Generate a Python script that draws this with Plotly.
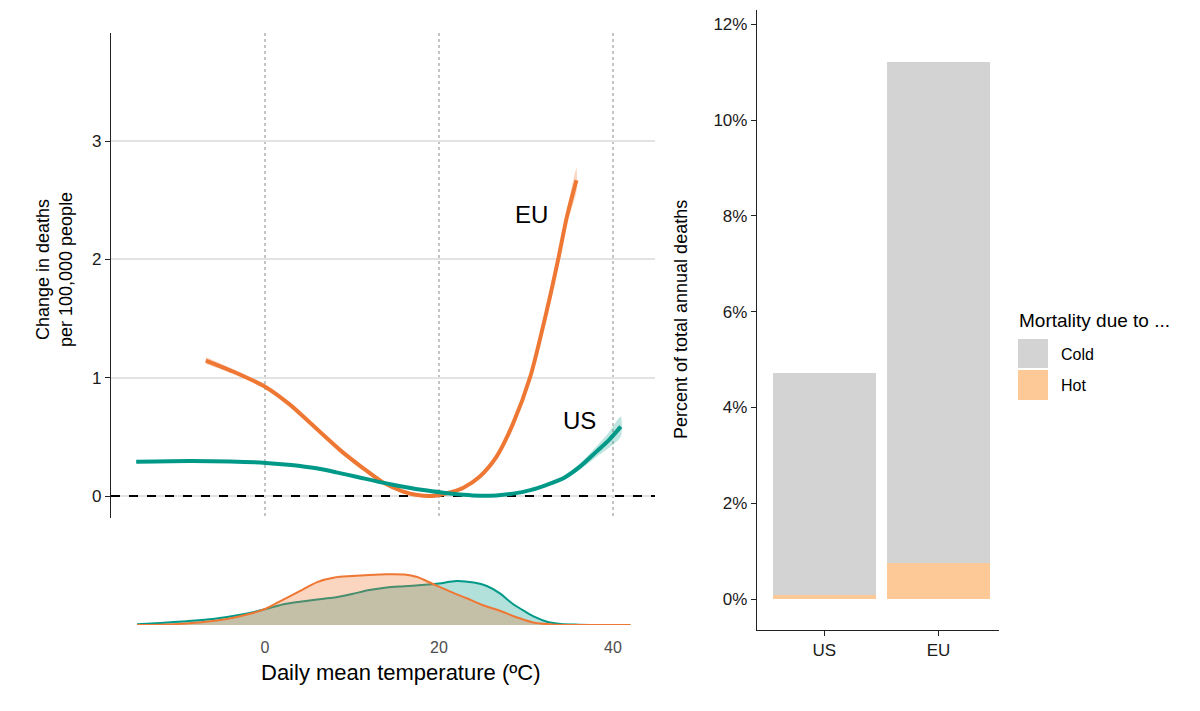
import plotly.graph_objects as go

# ---------------- data ----------------
# Response curves: change in deaths per 100,000 people vs daily mean temperature
us_temp = [-14.8, -8.6, -4, 0.1, 3, 5.9, 8.2, 10.5, 14.4, 18.2, 20.5, 22.8, 24.7, 26.6, 28.5,
           30.5, 32.4, 34.3, 36.2, 38.1, 39.5, 40.9]
us_resp = [0.29, 0.296, 0.292, 0.28, 0.262, 0.234, 0.2, 0.163, 0.10, 0.05, 0.028, 0.01, 0.002,
           0.005, 0.02, 0.05, 0.095, 0.15, 0.248, 0.375, 0.47, 0.586]
us_se = [0.012, 0.007, 0.005, 0.005, 0.005, 0.005, 0.005, 0.005, 0.005, 0.005, 0.005, 0.005,
         0.005, 0.005, 0.006, 0.008, 0.012, 0.018, 0.027, 0.045, 0.065, 0.085]

eu_temp = [-6.8, -3.6, 0.1, 2.9, 5.9, 8.6, 11.3, 13.6, 15.9, 17.5, 19.2, 20.9, 22.8, 24.7,
           26.6, 28.5, 30.5, 32.4, 33.7, 34.7, 35.8]
eu_resp = [1.145, 1.05, 0.92, 0.77, 0.57, 0.39, 0.234, 0.113, 0.037, 0.008, 0.0, 0.023,
           0.07, 0.165, 0.33, 0.61, 1.01, 1.57, 2.0, 2.36, 2.67]
eu_se = [0.03, 0.02, 0.014, 0.012, 0.01, 0.01, 0.008, 0.006, 0.005, 0.005, 0.005, 0.005,
         0.006, 0.008, 0.01, 0.014, 0.02, 0.03, 0.045, 0.06, 0.1]

# Distribution of daily mean temperatures (% of days per degree C)
dens_us_temp = [-14.7, -12, -9, -6, -3, 0, 2, 4, 6, 8, 10, 12, 14, 16, 18, 20, 22, 24, 25.5,
                27, 28.5, 30, 31, 32.5, 34, 36, 42]
dens_us = [0.06, 0.17, 0.32, 0.5, 0.83, 1.31, 1.71, 1.94, 2.13, 2.29, 2.58, 2.92, 3.13, 3.23,
           3.33, 3.46, 3.67, 3.54, 3.25, 2.64, 1.75, 1.08, 0.67, 0.25, 0.08, 0.03, 0.0]
dens_eu_temp = [-14.7, -12, -9, -6, -3, 0, 2, 4, 6, 8, 10, 12, 14, 16, 17.5, 19.3, 21.3, 23.2,
                25, 27, 29, 31, 33, 35, 42]
dens_eu = [0.0, 0.03, 0.13, 0.33, 0.71, 1.33, 2.08, 2.83, 3.58, 3.96, 4.08, 4.17, 4.23, 4.21,
           4.0, 3.42, 2.78, 2.23, 1.67, 1.19, 0.63, 0.18, 0.05, 0.01, 0.0]

# Share of annual deaths attributable to temperature (%)
regions = ["US", "EU"]
hot_share = [0.09, 0.76]
cold_share = [4.63, 10.45]

temp_ticks = [0, 20, 40]
resp_ticks = [0, 1, 2, 3]
pct_ticks = [0, 2, 4, 6, 8, 10, 12]

# ---------------- style ----------------
TEAL = "#009988"
ORANGE = "#EE7733"
FONT = "Liberation Sans, Arial, Helvetica, sans-serif"
W, H = 1200, 711
XR = [-17.70, 44.83]


def px(x):
    return x / W


def py(y):
    return 1 - y / H


fig = go.Figure()

# --- density panel (bottom-left) ---
fig.add_trace(go.Scatter(
    x=dens_us_temp, y=dens_us, xaxis="x2", yaxis="y2", mode="lines",
    line=dict(color=TEAL, width=2, shape="spline", smoothing=0.8),
    fill="tozeroy", fillcolor="rgba(0,153,136,0.3)", hoverinfo="skip"))
fig.add_trace(go.Scatter(
    x=dens_eu_temp, y=dens_eu, xaxis="x2", yaxis="y2", mode="lines",
    line=dict(color=ORANGE, width=2, shape="spline", smoothing=0.8),
    fill="tozeroy", fillcolor="rgba(238,119,51,0.3)", hoverinfo="skip"))

# --- zero reference line (top-left) ---
fig.add_trace(go.Scatter(
    x=XR, y=[0, 0], mode="lines", xaxis="x", yaxis="y", hoverinfo="skip",
    line=dict(color="black", width=1.8, dash="dash")))

# --- response curves (top-left) ---
for temp, resp, se, rgba in [
    (eu_temp, eu_resp, eu_se, "rgba(238,119,51,0.3)"),
    (us_temp, us_resp, us_se, "rgba(0,153,136,0.25)"),
]:
    upper = [r + s for r, s in zip(resp, se)]
    lower = [r - s for r, s in zip(resp, se)]
    fig.add_trace(go.Scatter(
        x=temp + temp[::-1], y=upper + lower[::-1], mode="lines",
        line=dict(width=0, shape="spline", smoothing=0.7), fill="toself",
        fillcolor=rgba, hoverinfo="skip", xaxis="x", yaxis="y"))

fig.add_trace(go.Scatter(
    x=eu_temp, y=eu_resp, mode="lines", xaxis="x", yaxis="y",
    line=dict(color=ORANGE, width=4, shape="spline", smoothing=0.7)))
fig.add_trace(go.Scatter(
    x=us_temp, y=us_resp, mode="lines", xaxis="x", yaxis="y",
    line=dict(color=TEAL, width=4, shape="spline", smoothing=0.7)))

# --- stacked bars (right) ---
fig.add_trace(go.Bar(x=regions, y=hot_share, name="Hot",
                     marker=dict(color="#FDC997", line=dict(width=0)),
                     width=0.9, xaxis="x3", yaxis="y3"))
fig.add_trace(go.Bar(x=regions, y=cold_share, name="Cold",
                     marker=dict(color="#D3D3D3", line=dict(width=0)),
                     width=0.9, xaxis="x3", yaxis="y3"))

fig.update_layout(
    width=W, height=H, margin=dict(l=0, r=0, t=0, b=0, pad=0),
    paper_bgcolor="white", plot_bgcolor="white",
    showlegend=False, barmode="stack", bargap=0.1,
    font=dict(family=FONT, color="#1a1a1a"),
    xaxis=dict(domain=[px(111), px(655)], range=XR, anchor="y",
               tickvals=temp_ticks, showticklabels=False, ticks="",
               showgrid=True, gridcolor="#c4c4c4", griddash="dot", gridwidth=1.5,
               zeroline=False, showline=False),
    yaxis=dict(domain=[py(518), py(33)], range=[-0.186, 3.914], anchor="x",
               tickvals=resp_ticks, ticks="outside", ticklen=5, tickwidth=1.2,
               tickcolor="#222", tickfont=dict(size=17, color="#1a1a1a"),
               showgrid=True, gridcolor="#e3e3e3", gridwidth=1.5,
               zeroline=False, showline=True, linecolor="#222", linewidth=1.3),
    xaxis2=dict(domain=[px(111), px(655)], range=XR, anchor="y2",
                tickvals=temp_ticks, ticks="outside", ticklen=8,
                tickcolor="rgba(0,0,0,0)", tickfont=dict(size=16, color="#4d4d4d"),
                showgrid=False, zeroline=False, showline=False),
    yaxis2=dict(domain=[py(625), py(560)], range=[0, 5.42], anchor="x2", visible=False),
    xaxis3=dict(domain=[px(757), px(999)], range=[-0.59, 1.53], anchor="y3",
                type="category", ticks="outside", ticklen=5, tickwidth=1.2, tickcolor="#222",
                tickfont=dict(size=17, color="#1a1a1a"),
                showline=True, linecolor="#222", linewidth=1.3, showgrid=False, zeroline=False),
    yaxis3=dict(domain=[py(629.5), py(10)], range=[-0.637, 12.30], anchor="x3",
                tickvals=pct_ticks, ticktext=[f"{v}%" for v in pct_ticks],
                ticks="outside", ticklen=5, tickwidth=1.2, tickcolor="#222",
                tickfont=dict(size=17, color="#1a1a1a"),
                showline=True, linecolor="#222", linewidth=1.3, showgrid=False, zeroline=False),
)

# legend for bars (drawn manually to mimic the large key boxes)
fig.add_shape(type="rect", xref="paper", yref="paper", x0=px(1018), x1=px(1048),
              y0=py(368), y1=py(339), fillcolor="#D3D3D3", line=dict(width=0))
fig.add_shape(type="rect", xref="paper", yref="paper", x0=px(1018), x1=px(1048),
              y0=py(400), y1=py(370), fillcolor="#FDC997", line=dict(width=0))

C = dict(xanchor="center", yanchor="middle", showarrow=False)
L = dict(xanchor="left", yanchor="middle", showarrow=False)
ann = [
    dict(text="EU", x=30.6, y=2.38, xref="x", yref="y", font=dict(size=24, color="black"), **C),
    dict(text="US", x=36.2, y=0.64, xref="x", yref="y", font=dict(size=24, color="black"), **C),
    dict(text="Daily mean temperature (ºC)", x=px(400), y=py(672), xref="paper", yref="paper",
         font=dict(size=22, color="black"), **C),
    dict(text="Change in deaths<br>per 100,000 people", x=px(54), y=py(270), xref="paper",
         yref="paper", textangle=-90, font=dict(size=18, color="black"), **C),
    dict(text="Percent of total annual deaths", x=px(681), y=py(320), xref="paper",
         yref="paper", textangle=-90, font=dict(size=18, color="black"), **C),
    dict(text="Mortality due to ...", x=px(1017), y=py(320), xref="paper", yref="paper",
         font=dict(size=19, color="black"), **L),
    dict(text="Cold", x=px(1059), y=py(354), xref="paper", yref="paper",
         font=dict(size=16, color="black"), **L),
    dict(text="Hot", x=px(1059), y=py(386), xref="paper", yref="paper",
         font=dict(size=16, color="black"), **L),
]
fig.update_layout(annotations=ann)

fig.write_html("out.html")
